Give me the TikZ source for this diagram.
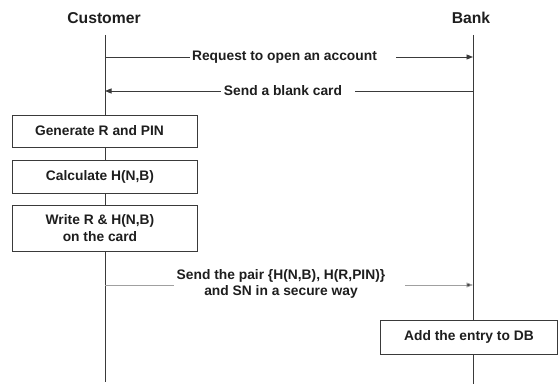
\documentclass[tikz,border=0pt]{standalone}
\usepackage{fontspec}
\setmainfont{Liberation Sans}
\usetikzlibrary{arrows.meta}
\definecolor{ln}{HTML}{3A3A3A}
\definecolor{lt}{HTML}{A0A0A0}
\definecolor{tx}{HTML}{1E1E1E}
\begin{document}
\begin{tikzpicture}[x=1pt,y=-1pt,
 actor/.style={font=\fontsize{15.7}{18}\selectfont\bfseries, text=tx, inner sep=0pt},
 msg/.style={font=\fontsize{13.8}{16.5}\selectfont\bfseries, text=tx, inner sep=0pt, align=center},
 life/.style={draw=ln, line width=0.9pt},
 lifelt/.style={draw=lt, line width=0.8pt},
 arr/.style={draw=ln, line width=0.9pt, -{Triangle[length=6.5pt,width=5pt]}},
 arrlt/.style={draw=lt, line width=0.8pt, -{Triangle[length=6.5pt,width=5pt,fill=ln]}},
 box/.style={draw=ln, line width=0.9pt, fill=white, inner sep=0pt},
 boxtext/.style={font=\fontsize{13.8}{16.5}\selectfont\bfseries, text=tx, inner sep=0pt, align=center}
]
\useasboundingbox (0,0) rectangle (558,387);
% actors
\node[actor] (cust) at (104,18) {Customer};
\node[actor] (bank) at (471,18) {Bank};
% lifelines
\coordinate (ct) at (105,35);
\coordinate (cb) at (105,382);
\coordinate (bt) at (473,35);
\coordinate (bb) at (473,384);
\draw[life] (ct) -- (cb);
\draw[life] (bt) -- (bb);
% message 1
\coordinate (m1l) at (105,57);
\coordinate (m1r) at (473,57);
\node[msg] (r1) at (284.5,57) {Request to open an account};
\draw[life] (m1l) -- ([xshift=-2pt]r1.west |- m1l);
\draw[arr] ([xshift=19pt]r1.east |- m1r) -- (m1r);
% message 2
\coordinate (m2l) at (105,91);
\coordinate (m2r) at (473,91);
\node[msg] (r2) at (283,91) {Send a blank card};
\draw[arr] ([xshift=-3pt]r2.west |- m2l) -- (m2l);
\draw[life] ([xshift=13pt]r2.east |- m2r) -- (m2r);
% customer boxes
\node[box, minimum width=185pt, minimum height=32pt] (b1) at (104.5,131) {};
\node[boxtext] (t1) at ([xshift=-5pt]b1.center) {Generate R and PIN};
\node[box, minimum width=185pt, minimum height=33pt] (b2) at (104.5,176.5) {};
\node[boxtext] (t2) at ([xshift=-4.5pt]b2.center) {Calculate H(N,B)};
\node[box, minimum width=185pt, minimum height=46pt] (b3) at (104.5,228) {};
\node[boxtext] (t3) at ([xshift=-4.5pt]b3.center) {Write R \& H(N,B)\\on the card};
% message 3
\coordinate (m3l) at (105,285);
\coordinate (m3r) at (473,285);
\node[msg] (r3) at (281,284) {Send the pair \{H(N,B), H(R,PIN)\}\\and SN in a secure way};
\draw[lifelt] (m3l) -- ([xshift=-3pt]r3.west |- m3l);
\draw[arrlt] ([xshift=20pt]r3.east |- m3r) -- (m3r);
% bank box
\node[box, minimum width=177pt, minimum height=34pt] (b4) at (469,337) {};
\node[boxtext] (t4) at (b4.center) {Add the entry to DB};
\end{tikzpicture}
\end{document}
